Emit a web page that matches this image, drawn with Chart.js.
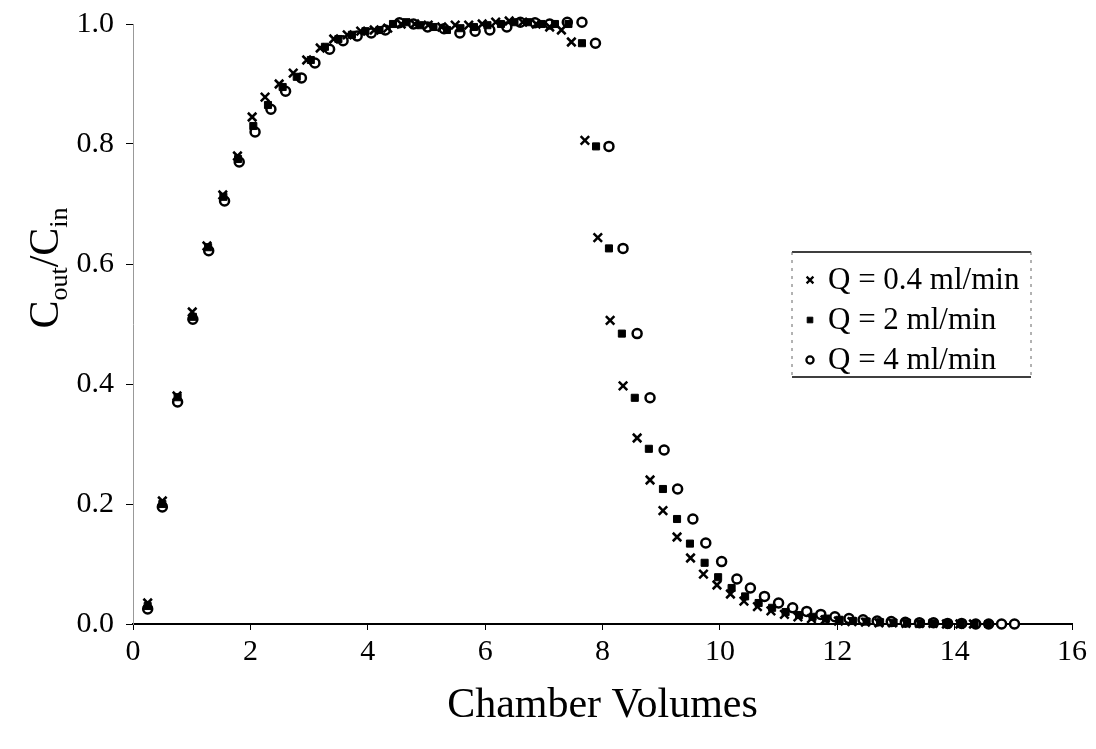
<!DOCTYPE html>
<html>
<head>
<meta charset="utf-8">
<script src="https://cdn.jsdelivr.net/npm/chart.js@4.4.1/dist/chart.umd.min.js"></script>
<style>
  html, body { margin: 0; padding: 0; background: #fff; }
  #wrap { width: 1096px; height: 749px; }
</style>
</head>
<body>
<div id="wrap"><canvas id="breakthroughChart" width="1096" height="749"></canvas></div>
<script>
// Tick labels
const xTicks = [0, 2, 4, 6, 8, 10, 12, 14, 16];
const yTicks = [0.0, 0.2, 0.4, 0.6, 0.8, 1.0];

const seriesLabels = ['Q = 0.4 ml/min', 'Q = 2 ml/min', 'Q = 4 ml/min'];

// Q = 0.4 ml/min  (x markers)
const q04Vol = [0.25, 0.50, 0.75, 1.01, 1.26, 1.53, 1.78, 2.03, 2.25, 2.49, 2.73, 2.96, 3.19, 3.42, 3.65, 3.88,
  4.11, 4.34, 4.57, 4.80, 5.03, 5.26, 5.49, 5.72, 5.95, 6.18, 6.41, 6.64, 6.87, 7.10, 7.30, 7.47,
  7.70, 7.92, 8.13, 8.35, 8.59, 8.81, 9.03, 9.27, 9.50, 9.72, 9.95, 10.18, 10.41, 10.64, 10.87,
  11.10, 11.33, 11.56, 11.79, 12.02, 12.25, 12.48, 12.71, 12.94, 13.17, 13.40, 13.63, 13.86, 14.09, 14.32];
const q04Conc = [0.035, 0.205, 0.38, 0.52, 0.63, 0.715, 0.78, 0.845, 0.878, 0.90, 0.918, 0.94, 0.96, 0.975, 0.982, 0.988,
  0.99, 0.993, 1.0, 1.0, 0.998, 0.995, 0.998, 0.998, 1.0, 1.003, 1.005, 1.003, 1.0, 0.995, 0.99, 0.97,
  0.806, 0.644, 0.506, 0.397, 0.31, 0.24, 0.189, 0.145, 0.11, 0.083, 0.065, 0.05, 0.038, 0.029, 0.022,
  0.016, 0.012, 0.009, 0.007, 0.005, 0.004, 0.003, 0.002, 0.002, 0.001, 0.001, 0.001, 0.0, 0.0, 0.0];

// Q = 2 ml/min  (filled squares)
const q2Vol = [0.25, 0.50, 0.76, 1.02, 1.28, 1.54, 1.79, 2.05, 2.30, 2.55, 2.79, 3.03, 3.27, 3.50, 3.73, 3.96,
  4.20, 4.43, 4.66, 4.89, 5.12, 5.35, 5.58, 5.81, 6.04, 6.27, 6.50, 6.73, 6.96, 7.19, 7.42, 7.65,
  7.89, 8.11, 8.33, 8.55, 8.79, 9.03, 9.27, 9.49, 9.74, 9.97, 10.20, 10.43, 10.66, 10.89, 11.12,
  11.35, 11.58, 11.81, 12.04, 12.27, 12.50, 12.73, 12.96, 13.19, 13.42, 13.65, 13.88, 14.11, 14.34, 14.57];
const q2Conc = [0.03, 0.20, 0.378, 0.512, 0.628, 0.712, 0.775, 0.83, 0.865, 0.895, 0.912, 0.94, 0.962, 0.975, 0.982, 0.988,
  0.99, 1.0, 1.003, 0.998, 0.995, 0.99, 0.993, 0.995, 0.998, 1.0, 1.003, 1.003, 1.0, 1.0, 1.0, 0.968,
  0.796, 0.626, 0.484, 0.377, 0.292, 0.225, 0.175, 0.134, 0.102, 0.078, 0.06, 0.046, 0.035, 0.027, 0.02,
  0.015, 0.012, 0.009, 0.007, 0.005, 0.004, 0.003, 0.002, 0.002, 0.001, 0.001, 0.0, 0.0, 0.0, 0.0];

// Q = 4 ml/min  (open circles)
const q4Vol = [0.25, 0.50, 0.76, 1.02, 1.29, 1.56, 1.81, 2.08, 2.35, 2.60, 2.87, 3.10, 3.35, 3.58, 3.82, 4.06,
  4.30, 4.54, 4.78, 5.02, 5.30, 5.57, 5.83, 6.08, 6.37, 6.60, 6.85, 7.10, 7.40, 7.65, 7.88,
  8.11, 8.35, 8.59, 8.81, 9.05, 9.28, 9.54, 9.76, 10.03, 10.29, 10.52, 10.76, 11.00, 11.24, 11.48,
  11.72, 11.96, 12.20, 12.44, 12.68, 12.92, 13.16, 13.40, 13.64, 13.88, 14.12, 14.36, 14.58, 14.80, 15.02];
const q4Conc = [0.025, 0.195, 0.37, 0.508, 0.622, 0.705, 0.77, 0.82, 0.858, 0.888, 0.91, 0.935, 0.958, 0.972, 0.98, 0.985,
  0.99, 1.002, 1.0, 0.995, 0.992, 0.985, 0.988, 0.99, 0.995, 1.003, 1.002, 1.0, 1.003, 1.003, 0.968,
  0.796, 0.626, 0.484, 0.377, 0.29, 0.225, 0.175, 0.135, 0.104, 0.075, 0.06, 0.046, 0.035, 0.027, 0.021,
  0.016, 0.012, 0.009, 0.007, 0.005, 0.004, 0.003, 0.002, 0.002, 0.001, 0.001, 0.0, 0.0, 0.0, 0.0];

const SERIF = "'Liberation Serif', 'DejaVu Serif', serif";

function toPoints(xs, ys) {
  return xs.map((x, i) => ({ x: x, y: ys[i] }));
}

// y axis title with subscripts, C_out / C_in
const yTitlePlugin = {
  id: 'yTitle',
  afterDraw(chart) {
    const ctx = chart.ctx;
    const parts = [
      { t: 'C', size: 42, dy: 0 },
      { t: 'out', size: 26, dy: 9 },
      { t: '/C', size: 42, dy: 0 },
      { t: 'in', size: 26, dy: 9 }
    ];
    ctx.save();
    let total = 0;
    parts.forEach(p => {
      ctx.font = p.size + 'px ' + SERIF;
      p.w = ctx.measureText(p.t).width;
      total += p.w;
    });
    ctx.translate(46, 268);
    ctx.rotate(-Math.PI / 2);
    ctx.fillStyle = '#000';
    ctx.textBaseline = 'alphabetic';
    let x = -total / 2;
    parts.forEach(p => {
      ctx.font = p.size + 'px ' + SERIF;
      ctx.fillText(p.t, x, 12 + p.dy);
      x += p.w;
    });
    ctx.restore();
  }
};

// legend box drawn inside the plot, right side
const boxLegendPlugin = {
  id: 'boxLegend',
  afterDraw(chart) {
    const ctx = chart.ctx;
    const left = 792, right = 1031, top = 252, bottom = 377;
    ctx.save();
    ctx.strokeStyle = '#000';
    ctx.lineWidth = 1.5;
    ctx.beginPath();
    ctx.moveTo(left, top); ctx.lineTo(right, top);
    ctx.moveTo(left, bottom); ctx.lineTo(right, bottom);
    ctx.stroke();
    ctx.strokeStyle = '#666';
    ctx.lineWidth = 1;
    ctx.setLineDash([3, 5]);
    ctx.beginPath();
    ctx.moveTo(right, top); ctx.lineTo(right, bottom);
    ctx.moveTo(left, top); ctx.lineTo(left, bottom);
    ctx.stroke();
    ctx.setLineDash([]);

    ctx.textBaseline = 'middle';
    chart.data.datasets.forEach((ds, i) => {
      const y = 280 + i * 40;
      ctx.strokeStyle = ds.borderColor;
      ctx.fillStyle = ds.backgroundColor;
      ctx.lineWidth = ds.borderWidth * 0.9;
      Chart.helpers.drawPoint(ctx, {
        pointStyle: ds.pointStyle,
        radius: ds.pointRadius * 0.8,
        borderWidth: ds.borderWidth,
        rotation: 0
      }, 810, y);
      ctx.font = '31px ' + SERIF;
      ctx.fillStyle = '#000';
      ctx.fillText(ds.label, 828, y + 1);
    });
    ctx.restore();
  }
};

new Chart(document.getElementById('breakthroughChart'), {
  type: 'scatter',
  data: {
    datasets: [
      {
        label: seriesLabels[0],
        data: toPoints(q04Vol, q04Conc),
        pointStyle: 'crossRot',
        pointRadius: 6,
        borderWidth: 2.5,
        borderColor: '#000',
        backgroundColor: '#000',
        clip: false
      },
      {
        label: seriesLabels[1],
        data: toPoints(q2Vol, q2Conc),
        pointStyle: 'rect',
        pointRadius: 5,
        borderWidth: 1,
        borderColor: '#000',
        backgroundColor: '#000',
        clip: false
      },
      {
        label: seriesLabels[2],
        data: toPoints(q4Vol, q4Conc),
        pointStyle: 'circle',
        pointRadius: 4.5,
        borderWidth: 2.5,
        borderColor: '#000',
        backgroundColor: '#fff',
        clip: false
      }
    ]
  },
  options: {
    responsive: false,
    animation: false,
    layout: { padding: { top: 24, right: 24, left: 0, bottom: 0 } },
    plugins: {
      legend: { display: false },
      tooltip: { enabled: false }
    },
    scales: {
      x: {
        type: 'linear',
        min: 0,
        max: 16,
        afterBuildTicks: s => { s.ticks = xTicks.map(v => ({ value: v })); },
        afterFit: s => { s.height = 125; },
        grid: { drawOnChartArea: false, tickLength: 6, color: '#000', lineWidth: 1 },
        border: { display: true, color: '#000', width: 2 },
        ticks: {
          color: '#000',
          padding: 4,
          maxRotation: 0,
          font: { family: SERIF, size: 30 },
          callback: v => String(v)
        },
        title: {
          display: true,
          text: 'Chamber Volumes',
          color: '#000',
          font: { family: SERIF, size: 42 },
          padding: { top: 0, bottom: 18 }
        }
      },
      y: {
        type: 'linear',
        min: 0,
        max: 1,
        afterBuildTicks: s => { s.ticks = yTicks.map(v => ({ value: v })); },
        afterFit: s => { s.width = 133; },
        grid: { drawOnChartArea: false, tickLength: 7, color: '#000', lineWidth: 1 },
        border: { display: true, color: '#999', width: 1, dash: [2, 4] },
        ticks: {
          color: '#000',
          padding: 12,
          font: { family: SERIF, size: 30, lineHeight: 0.8 },
          callback: v => Number(v).toFixed(1)
        }
      }
    }
  },
  plugins: [yTitlePlugin, boxLegendPlugin]
});
</script>
</body>
</html>
